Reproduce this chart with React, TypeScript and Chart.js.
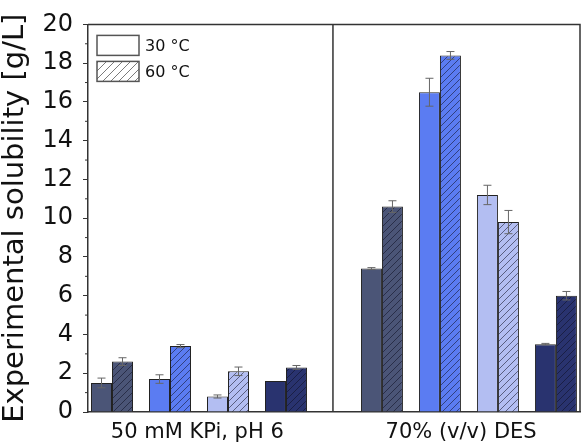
import { useEffect, useRef } from 'react';
import { Chart, registerables } from 'chart.js';

Chart.register(...registerables);

// ---------- data ----------
const groupLabels = ['50 mM KPi, pH 6', '70% (v/v) DES'];
const compounds = ['Compound 1', 'Compound 2', 'Compound 3', 'Compound 4'];
const temperatureLabels = ['30 °C', '60 °C'];
const yTickValues = [0, 2, 4, 6, 8, 10, 12, 14, 16, 18, 20];
const yTitle = 'Experimental solubility [g/L]';

const kpi30 = [1.5, 1.7, 0.8, 1.6];
const kpi30Err = [0.25, 0.22, 0.08, 0];
const kpi60 = [2.6, 3.4, 2.1, 2.3];
const kpi60Err = [0.2, 0.08, 0.22, 0.1];
const des30 = [7.4, 16.5, 11.2, 3.5];
const des30Err = [0.05, 0.72, 0.5, 0.04];
const des60 = [10.6, 18.4, 9.8, 6.0];
const des60Err = [0.3, 0.2, 0.6, 0.22];

// ---------- layout / style constants ----------
const compoundColors = ['#4b5577', '#5b7cf2', '#b3bef2', '#29336f'];
const GROUP_OFFSET = 4.655;
const X_MIN = -0.414;
const X_MAX = 8.07;
const SEPARATOR = 3.81;
const GROUP_LABEL_POS = [1.47, 6.02];
const FONT = '"DejaVu Sans", "Liberation Sans", Arial, sans-serif';

function makeHatch(base: string, line: string, size = 7): CanvasPattern | string {
  const c = document.createElement('canvas');
  c.width = size;
  c.height = size;
  const g = c.getContext('2d');
  if (!g) return base;
  g.fillStyle = base;
  g.fillRect(0, 0, size, size);
  g.strokeStyle = line;
  g.lineWidth = 1;
  g.beginPath();
  g.moveTo(0, size);
  g.lineTo(size, 0);
  g.moveTo(-1, 1);
  g.lineTo(1, -1);
  g.moveTo(size - 1, size + 1);
  g.lineTo(size + 1, size - 1);
  g.stroke();
  return g.createPattern(c, 'repeat') || base;
}

const framePlugin = {
  id: 'frame',
  afterDatasetsDraw(chart: any) {
    const { ctx, chartArea: a, scales } = chart;
    const x = scales.x;
    const y = scales.y;
    ctx.save();
    ctx.strokeStyle = '#333';
    ctx.lineWidth = 1.5;
    ctx.beginPath();
    ctx.moveTo(a.left, a.top);
    ctx.lineTo(a.right, a.top);
    ctx.lineTo(a.right, a.bottom);
    const sx = x.getPixelForValue(SEPARATOR);
    ctx.moveTo(sx, a.top);
    ctx.lineTo(sx, a.bottom);
    ctx.stroke();
    ctx.lineWidth = 1;
    ctx.beginPath();
    for (let i = 0; i < yTickValues.length - 1; i++) {
      const v = (yTickValues[i] + yTickValues[i + 1]) / 2;
      const py = y.getPixelForValue(v);
      ctx.moveTo(a.left - 3, py);
      ctx.lineTo(a.left, py);
    }
    ctx.stroke();
    ctx.restore();
  },
};

const errorBarPlugin = {
  id: 'errorBars',
  afterDatasetsDraw(chart: any) {
    const { ctx, scales } = chart;
    const y = scales.y;
    ctx.save();
    ctx.strokeStyle = '#666';
    ctx.lineWidth = 1;
    chart.data.datasets.forEach((ds: any, di: number) => {
      const meta = chart.getDatasetMeta(di);
      meta.data.forEach((bar: any, i: number) => {
        const err = ds.errors[i];
        if (!err) return;
        const v = ds.data[i].y;
        const top = y.getPixelForValue(v + err);
        const bot = y.getPixelForValue(v - err);
        ctx.beginPath();
        ctx.moveTo(bar.x, top);
        ctx.lineTo(bar.x, bot);
        ctx.moveTo(bar.x - 4, top);
        ctx.lineTo(bar.x + 4, top);
        ctx.moveTo(bar.x - 4, bot);
        ctx.lineTo(bar.x + 4, bot);
        ctx.stroke();
      });
    });
    ctx.restore();
  },
};

const legendPlugin = {
  id: 'insideLegend',
  afterDraw(chart: any) {
    const { ctx, chartArea: a } = chart;
    const fills = ['#ffffff', makeHatch('#ffffff', 'rgba(90,90,90,0.8)', 8)];
    ctx.save();
    temperatureLabels.forEach((t, i) => {
      const bx = a.left + 9;
      const by = a.top + 11 + i * 26;
      ctx.fillStyle = fills[i];
      ctx.fillRect(bx, by, 42, 20);
      ctx.strokeStyle = '#555';
      ctx.lineWidth = 1.5;
      ctx.strokeRect(bx, by, 42, 20);
      ctx.fillStyle = '#111';
      ctx.font = `16px ${FONT}`;
      ctx.textBaseline = 'middle';
      ctx.textAlign = 'left';
      ctx.fillText(t, bx + 48, by + 11);
    });
    ctx.restore();
  },
};

export default function App() {
  const ref = useRef<HTMLCanvasElement>(null);

  useEffect(() => {
    if (!ref.current) return;
    const hatchLine = 'rgba(15,15,35,0.55)';
    const solid = [...compoundColors, ...compoundColors];
    const hatched = solid.map((c) => makeHatch(c, hatchLine));
    const xs = [
      ...compounds.map((_, i) => i),
      ...compounds.map((_, i) => i + GROUP_OFFSET),
    ];
    const ds30 = {
      label: temperatureLabels[0],
      data: [...kpi30, ...des30].map((v, i) => ({ x: xs[i], y: v })),
      errors: [...kpi30Err, ...des30Err],
      backgroundColor: solid,
      borderColor: '#222',
      borderWidth: 1,
      categoryPercentage: 0.724,
      barPercentage: 1,
    };
    const ds60 = {
      label: temperatureLabels[1],
      data: [...kpi60, ...des60].map((v, i) => ({ x: xs[i], y: v })),
      errors: [...kpi60Err, ...des60Err],
      backgroundColor: hatched,
      borderColor: '#222',
      borderWidth: 1,
      categoryPercentage: 0.724,
      barPercentage: 1,
    };

    const chart = new Chart(ref.current, {
      type: 'bar',
      data: { datasets: [ds30 as any, ds60 as any] },
      options: {
        animation: false,
        responsive: false,
        layout: { padding: { top: 15, right: 3, left: 0, bottom: 0 } },
        plugins: {
          legend: { display: false },
          tooltip: { enabled: false },
        },
        scales: {
          x: {
            type: 'linear',
            min: X_MIN,
            max: X_MAX,
            offset: false,
            grid: { display: false, drawTicks: false, offset: false },
            border: { display: true, color: '#333', width: 1.5 },
            afterBuildTicks: (s: any) => {
              s.ticks = GROUP_LABEL_POS.map((v) => ({ value: v }));
            },
            afterFit: (s: any) => {
              s.height = 34;
            },
            ticks: {
              autoSkip: false,
              maxRotation: 0,
              minRotation: 0,
              padding: 8,
              color: '#111',
              font: { family: FONT, size: 21 },
              callback: (_v: any, i: number) => groupLabels[i],
            },
          },
          y: {
            min: 0,
            max: 20,
            afterBuildTicks: (s: any) => {
              s.ticks = yTickValues.map((v) => ({ value: v }));
            },
            afterFit: (s: any) => {
              s.width = 88;
            },
            grid: { drawOnChartArea: false, drawTicks: true, tickLength: 5, color: '#333' },
            border: { display: true, color: '#333', width: 1.5 },
            ticks: {
              padding: 10,
              color: '#111',
              font: { family: FONT, size: 24 },
            },
            title: {
              display: true,
              text: yTitle,
              color: '#111',
              font: { family: FONT, size: 29, lineHeight: 1 },
              padding: { top: 1, bottom: 0 },
            },
          },
        },
      },
      plugins: [framePlugin, errorBarPlugin, legendPlugin],
    });
    return () => chart.destroy();
  }, []);

  return (
    <div style={{ position: 'absolute', left: 0, top: 0, width: 583, height: 446, background: '#fff' }}>
      <canvas ref={ref} width={583} height={446} style={{ display: 'block' }} />
    </div>
  );
}
